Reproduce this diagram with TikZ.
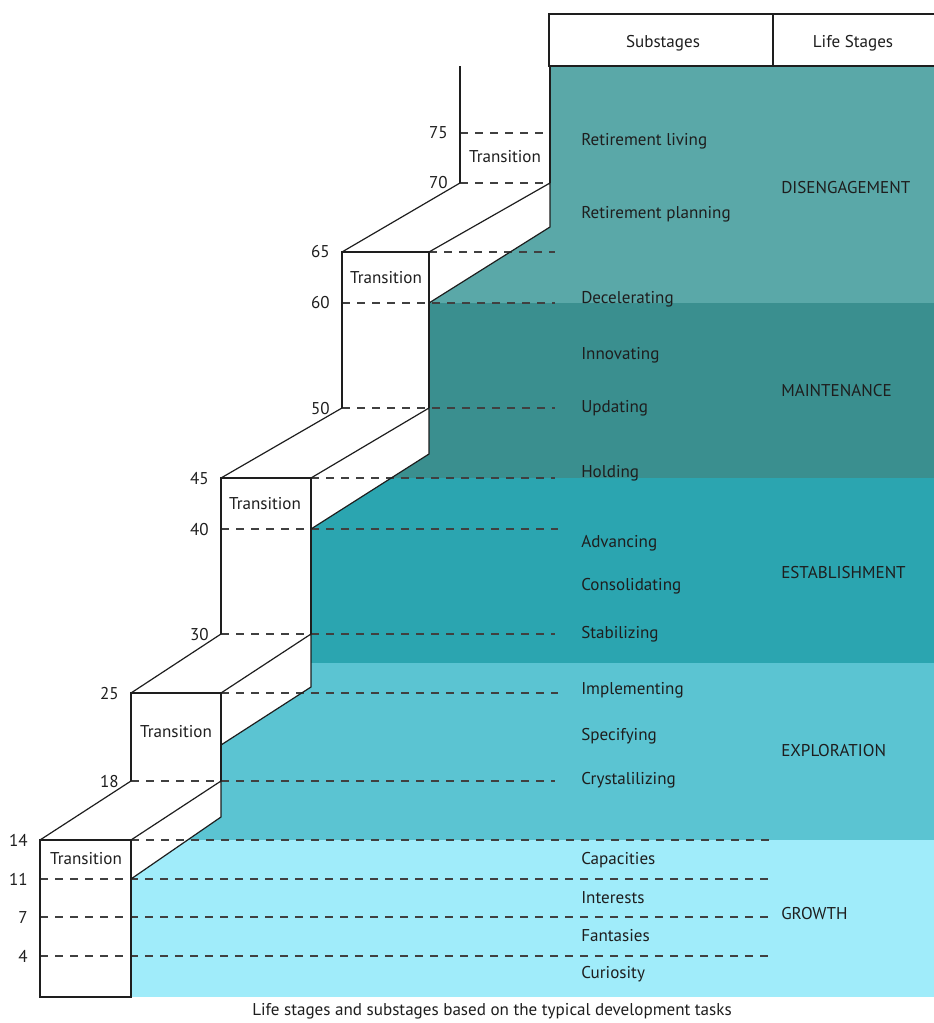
\documentclass[tikz,border=0pt]{standalone}
\usepackage{fontspec}
\setmainfont{PT Sans}
\definecolor{cDis}{HTML}{5AA8A8}
\definecolor{cMain}{HTML}{3A8F8F}
\definecolor{cEst}{HTML}{2BA5B0}
\definecolor{cExp}{HTML}{5BC4D2}
\definecolor{cGro}{HTML}{A0ECFA}
\definecolor{ink}{HTML}{1E1E1E}
\begin{document}
\begin{tikzpicture}[x=0.75pt,y=-0.75pt,
  edge/.style={draw=ink,line width=0.9pt,line join=miter},
  agedash/.style={draw=ink!85,line width=0.9pt,dash pattern=on 6pt off 5.25pt},
  txt/.style={font=\fontsize{12.8}{15}\selectfont,text=ink,inner sep=0pt},
  agelbl/.style={txt,anchor=base east},
  sub/.style={txt,anchor=base west},
  stage/.style={txt,anchor=base west},
  trans/.style={txt,anchor=base}]
\useasboundingbox (0,0) rectangle (933,1023);
% coloured bands right of the staircase
\begin{scope}
\clip (131,997) -- (131,879) -- (221,817) -- (221,745) -- (311,687) -- (311,529)
  -- (429,454) -- (429,303) -- (550,227) -- (550,66) -- (940,66) -- (940,997) -- cycle;
\fill[cDis]  (100,66)  rectangle (940,303);
\fill[cMain] (100,303) rectangle (940,478);
\fill[cEst]  (100,478) rectangle (940,663);
\fill[cExp]  (100,663) rectangle (940,840);
\fill[cGro]  (100,840) rectangle (940,997);
\end{scope}
% header table
\draw[edge] (940,14) -- (549,14) -- (549,66) -- (940,66);
\draw[edge] (773,14) -- (773,66);
\node[txt,anchor=base] (hsub) at (663,48) {Substages};
\node[txt,anchor=base] (hlife) at (853,48) {Life Stages};
% dashed age lines
\foreach \y/\a/\b in {133/460/550,183/460/550,252/429/555,303/342/555,408/342/555,
  478/311/555,529/221/558,634/221/555,693/221/558,781/131/555,
  840/131/773,879/40/773,917/40/773,956/40/773}
  \draw[agedash] (\a,\y) -- (\b,\y);
% block 1
\draw[edge] (131,840) -- (40,840) -- (40,997) -- (131,997) -- (131,840);
\draw[edge] (40,840) -- (131,781);
\draw[edge] (131,840) -- (221,781) -- (221,817) -- (131,879);
% block 2
\draw[edge] (131,781) -- (131,693) -- (221,693) -- (221,781);
\draw[edge] (131,693) -- (221,634);
\draw[edge] (221,693) -- (311,634) -- (311,687) -- (221,745);
% block 3
\draw[edge] (221,634) -- (221,478) -- (311,478) -- (311,634);
\draw[edge] (221,478) -- (342,408);
\draw[edge] (311,478) -- (429,408) -- (429,454) -- (311,529);
% block 4
\draw[edge] (342,408) -- (342,252) -- (429,252) -- (429,408);
\draw[edge] (342,252) -- (460,183);
\draw[edge] (429,252) -- (550,183) -- (550,227) -- (429,303);
% block 5
\draw[edge] (460,183) -- (460,66);
\draw[edge] (550,66) -- (550,183);
% transition labels
\node[trans] (t1) at (86,864) {Transition};
\node[trans] (t2) at (176,737) {Transition};
\node[trans] (t3) at (265,509) {Transition};
\node[trans] (t4) at (386,284) {Transition};
\node[trans] (t5) at (505,163) {Transition};
% age labels
\foreach \y/\x/\t in {133/460/75,183/460/70,252/342/65,303/342/60,408/342/50,
  478/221/45,529/221/40,634/221/30,693/131/25,781/131/18,
  840/40/14,879/40/11,917/40/7,956/40/4}
  \node[agelbl] (age\t) at (\x-12,\y+6) {\t};
% substages
\node[sub] (s1) at (581,146) {Retirement living};
\node[sub] (s2) at (581,219) {Retirement planning};
\node[sub] (s3) at (581,303) {Decelerating};
\node[sub] (s4) at (581,359) {Innovating};
\node[sub] (s5) at (581,412) {Updating};
\node[sub] (s6) at (581,477) {Holding};
\node[sub] (s7) at (581,547) {Advancing};
\node[sub] (s8) at (581,590) {Consolidating};
\node[sub] (s9) at (581,638) {Stabilizing};
\node[sub] (s10) at (581,694) {Implementing};
\node[sub] (s11) at (581,740) {Specifying};
\node[sub] (s12) at (581,784) {Crystalilizing};
\node[sub] (s13) at (581,864) {Capacities};
\node[sub] (s14) at (581,903) {Interests};
\node[sub] (s15) at (581,941) {Fantasies};
\node[sub] (s16) at (581,978) {Curiosity};
% life stages
\node[stage] (l1) at (781,194) {DISENGAGEMENT};
\node[stage] (l2) at (781,396) {MAINTENANCE};
\node[stage] (l3) at (781,578) {ESTABLISHMENT};
\node[stage] (l4) at (781,756) {EXPLORATION};
\node[stage] (l5) at (781,919) {GROWTH};
% caption
\node[txt,anchor=base] (cap) at (492,1015) {Life stages and substages based on the typical development tasks};
\end{tikzpicture}
\end{document}
